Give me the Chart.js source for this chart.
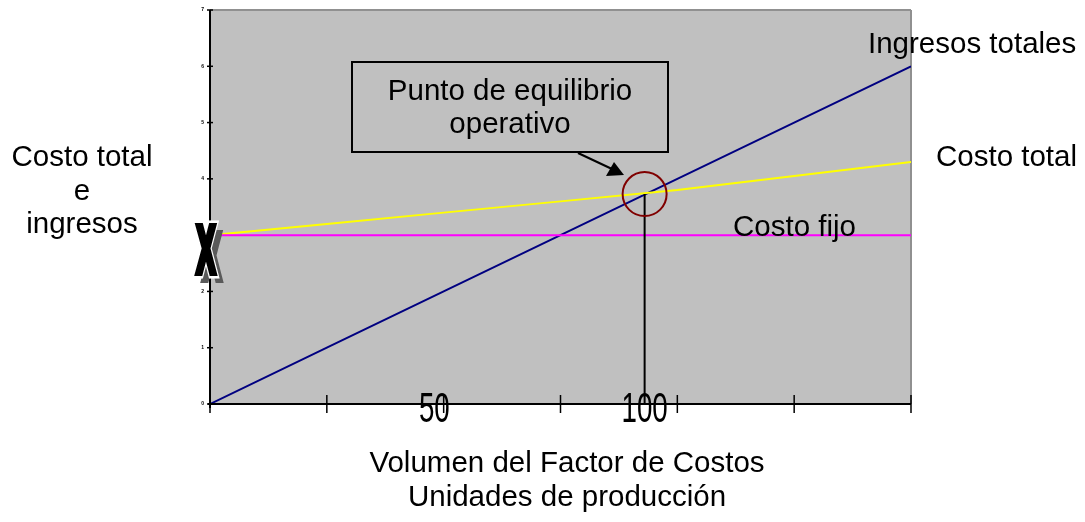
<!DOCTYPE html>
<html>
<head>
<meta charset="utf-8">
<script src="https://cdn.jsdelivr.net/npm/chart.js@4"></script>
<style>
    html, body { margin: 0; padding: 0; background: #fff; }
    .be-chart { position: relative; width: 1085px; height: 522px; }
</style>
</head>
<body>
<div class="be-chart"><canvas id="beCanvas"></canvas></div>
<script>
/* global Chart */
// volumen (unidades de eje) y series
const volume = [0, 1, 2, 3, 4, 5, 6];
const totalRevenue = [0, 1, 2, 3, 4, 5, 6];
const totalCost = [3.0, 3.2, 3.4, 3.6, 3.8, 4.05, 4.3];
const fixedCost = [3, 3, 3, 3, 3, 3, 3];
const yTicks = [0, 1, 2, 3, 4, 5, 6, 7];
const xTickLabels = [{ value: 1.92, text: '50' }, { value: 3.72, text: '100' }];
const breakEven = { x: 3.72, y: 3.73 };

(function () {
    const FONT = '"Liberation Sans", Arial, sans-serif';

    function text(ctx, str, x, y, size, align) {
        ctx.font = size + 'px ' + FONT;
        ctx.textAlign = align || 'center';
        ctx.textBaseline = 'alphabetic';
        ctx.fillStyle = '#000';
        ctx.fillText(str, x, y);
    }

    function line(ctx, x1, y1, x2, y2, color, w) {
        ctx.beginPath();
        ctx.moveTo(x1, y1);
        ctx.lineTo(x2, y2);
        ctx.strokeStyle = color;
        ctx.lineWidth = w;
        ctx.stroke();
    }

    // la X gruesa del eje (estilo WordArt: sombra, contorno blanco)
    function bigX(ctx, x, y, fill, outline) {
        ctx.save();
        ctx.font = 'bold 64px ' + FONT;
        ctx.textAlign = 'center';
        ctx.textBaseline = 'alphabetic';
        ctx.lineJoin = 'miter';
        ctx.translate(x, y);
        ctx.scale(0.42, 1);
        if (outline) {
            ctx.strokeStyle = outline;
            ctx.lineWidth = 13;
            ctx.strokeText('X', 0, 0);
        }
        ctx.strokeStyle = fill;
        ctx.lineWidth = 8;
        ctx.strokeText('X', 0, 0);
        ctx.fillStyle = fill;
        ctx.fillText('X', 0, 0);
        ctx.restore();
    }

    const backdrop = {
        id: 'backdrop',
        beforeDatasetsDraw(chart) {
            const { ctx, chartArea: a } = chart;
            ctx.save();
            ctx.fillStyle = '#C0C0C0';
            ctx.fillRect(a.left, a.top, a.right - a.left, a.bottom - a.top);
            line(ctx, a.left, a.top, a.right, a.top, '#909090', 2);
            line(ctx, a.right, a.top, a.right, a.bottom, '#909090', 2);
            ctx.restore();
        },
    };

    const decorations = {
        id: 'decorations',
        afterDatasetsDraw(chart) {
            const { ctx, chartArea: a } = chart;
            const xs = chart.scales.x;
            const ys = chart.scales.y;
            ctx.save();

            // ejes
            line(ctx, a.left, a.top, a.left, a.bottom + 4, '#000', 2);
            line(ctx, a.left - 2, a.bottom, a.right, a.bottom, '#000', 2);

            yTicks.forEach(v => {
                const py = ys.getPixelForValue(v);
                line(ctx, a.left - 3, py, a.left + 3, py, '#000', 1.5);
                ctx.font = 'bold 5px ' + FONT;
                ctx.textAlign = 'right';
                ctx.textBaseline = 'middle';
                ctx.fillStyle = '#000';
                ctx.fillText(String(v), a.left - 6, py);
            });

            volume.forEach(v => {
                const px = xs.getPixelForValue(v);
                line(ctx, px, a.bottom - 9, px, a.bottom + 9, '#000', 1.5);
            });

            // linea vertical del punto de equilibrio
            const bx = xs.getPixelForValue(breakEven.x);
            const by = ys.getPixelForValue(breakEven.y);
            line(ctx, bx, by, bx, a.bottom, '#000', 2);

            // etiquetas 50 / 100 (condensadas)
            xTickLabels.forEach(t => {
                const px = xs.getPixelForValue(t.value);
                ctx.save();
                ctx.translate(px, a.bottom + 18);
                ctx.scale(0.66, 1);
                text(ctx, t.text, 0, 0, 42, 'center');
                ctx.restore();
            });

            // circulo
            ctx.beginPath();
            ctx.arc(bx, by, 22, 0, Math.PI * 2);
            ctx.strokeStyle = '#800000';
            ctx.lineWidth = 2;
            ctx.stroke();

            // cuadro de texto
            ctx.fillStyle = '#C0C0C0';
            ctx.fillRect(352, 62, 316, 90);
            ctx.strokeStyle = '#000';
            ctx.lineWidth = 2;
            ctx.strokeRect(352, 62, 316, 90);
            text(ctx, 'Punto de equilibrio', 510, 100, 29.5);
            text(ctx, 'operativo', 510, 133, 29.5);

            // flecha
            line(ctx, 578, 153, 612, 169, '#000', 2);
            ctx.beginPath();
            ctx.moveTo(624, 175);
            ctx.lineTo(606, 176);
            ctx.lineTo(614, 162);
            ctx.closePath();
            ctx.fillStyle = '#000';
            ctx.fill();

            // X en el eje
            const xy = ys.getPixelForValue(3);
            bigX(ctx, a.left + 2, xy + 44, '#5A5A5A', null);
            bigX(ctx, a.left - 4, xy + 37, '#000', '#fff');

            // textos
            text(ctx, 'Costo total', 82, 166, 29.5);
            text(ctx, 'e', 82, 200, 29.5);
            text(ctx, 'ingresos', 82, 233, 29.5);
            text(ctx, 'Ingresos totales', 868, 53, 29.5, 'left');
            text(ctx, 'Costo total', 936, 166, 29.5, 'left');
            text(ctx, 'Costo fijo', 733, 236, 29.5, 'left');
            text(ctx, 'Volumen del Factor de Costos', 567, 472, 29.5);
            text(ctx, 'Unidades de producción', 567, 506, 29.5);

            ctx.restore();
        },
    };

    function pts(values) {
        return volume.map((v, i) => ({ x: v, y: values[i] }));
    }

    new Chart(document.getElementById('beCanvas').getContext('2d'), {
        type: 'line',
        data: {
            datasets: [
                { label: 'Costo fijo', data: pts(fixedCost), borderColor: '#FF00FF', borderWidth: 2 },
                { label: 'Costo total', data: pts(totalCost), borderColor: '#FFFF00', borderWidth: 2 },
                { label: 'Ingresos totales', data: pts(totalRevenue), borderColor: '#000080', borderWidth: 2 },
            ],
        },
        options: {
            responsive: true,
            maintainAspectRatio: false,
            animation: false,
            layout: { padding: { left: 210, right: 174, top: 10, bottom: 118 } },
            elements: { point: { radius: 0 }, line: { tension: 0 } },
            plugins: { legend: { display: false }, tooltip: { enabled: false } },
            scales: {
                x: { type: 'linear', min: 0, max: 6, display: false },
                y: { type: 'linear', min: 0, max: 7, display: false },
            },
        },
        plugins: [backdrop, decorations],
    });
})();
</script>
</body>
</html>
